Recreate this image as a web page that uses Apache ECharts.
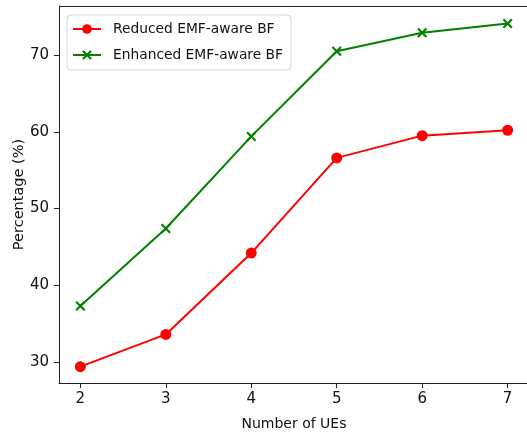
<!DOCTYPE html>
<html>
<head>
<meta charset="utf-8">
<script src="https://cdn.jsdelivr.net/npm/echarts@6/dist/echarts.min.js"></script>
<style>
html,body{margin:0;padding:0;background:#fff;}
#c{width:527px;height:435px;}
</style>
</head>
<body>
<div id="c"></div>
<script>
const ues = [2, 3, 4, 5, 6, 7];
const reduced = [29.4, 33.6, 44.2, 56.6, 59.5, 60.2];
const enhanced = [37.3, 47.4, 59.4, 70.5, 72.9, 74.1];
const yTicks = [30, 40, 50, 60, 70];
const xTicks = [2, 3, 4, 5, 6, 7];
const seriesNames = ['Reduced EMF-aware BF', 'Enhanced EMF-aware BF'];

const font = 'DejaVu Sans';
const xPath = 'path://M0,0.15 L0.15,0 L0.5,0.35 L0.85,0 L1,0.15 L0.65,0.5 L1,0.85 L0.85,1 L0.5,0.65 L0.15,1 L0,0.85 L0.35,0.5 Z';

const chart = echarts.init(document.getElementById('c'), null, {renderer: 'canvas'});
chart.setOption({
  animation: false,
  backgroundColor: '#fff',
  grid: {left: 59, right: -2, top: 6, bottom: 52, containLabel: false, outerBoundsMode: 'none'},
  legend: {
    left: 67, top: 15,
    orient: 'vertical',
    itemWidth: 28, itemHeight: 12, itemGap: 10,
    padding: [6, 8, 7, 5],
    borderColor: '#d5d5d5', borderWidth: 1, borderRadius: 4,
    backgroundColor: 'rgba(255,255,255,0.8)',
    textStyle: {fontFamily: font, fontSize: 13.8, lineHeight: 16, color: '#111', padding: [0,0,0,7]},
    data: seriesNames
  },
  xAxis: {
    type: 'value', min: 1.75, max: 7.25,
    name: 'Number of UEs', nameLocation: 'middle', nameGap: 34, nameMoveOverlap: false,
    nameTextStyle: {fontFamily: font, fontSize: 14, color: '#111'},
    axisLine: {show: true, onZero: false, lineStyle: {color: '#222', width: 1}},
    axisTick: {show: true, length: 5, lineStyle: {color: '#222'}, customValues: xTicks},
    axisLabel: {fontFamily: font, fontSize: 15, color: '#111', margin: 9, customValues: xTicks, formatter: v => String(v)},
    splitLine: {show: false}
  },
  yAxis: {
    type: 'value', min: 27.27, max: 76.39,
    name: 'Percentage (%)', nameLocation: 'middle', nameGap: 32, nameMoveOverlap: false,
    nameTextStyle: {fontFamily: font, fontSize: 14.5, color: '#111'},
    axisLine: {show: true, onZero: false, lineStyle: {color: '#222', width: 1}},
    axisTick: {show: true, length: 5, lineStyle: {color: '#222'}, customValues: yTicks},
    axisLabel: {fontFamily: font, fontSize: 15, color: '#111', margin: 10, customValues: yTicks, formatter: v => String(v)},
    splitLine: {show: false}
  },
  graphic: [
    {type: 'line', shape: {x1: 59, y1: 6.5, x2: 527, y2: 6.5}, style: {stroke: '#222', lineWidth: 1}, silent: true}
  ],
  series: [
    {
      name: seriesNames[0], type: 'line',
      data: ues.map((x, i) => [x, reduced[i]]),
      symbol: 'circle', symbolSize: 11,
      lineStyle: {color: '#ff0000', width: 2},
      itemStyle: {color: '#ff0000'}
    },
    {
      name: seriesNames[1], type: 'line',
      data: ues.map((x, i) => [x, enhanced[i]]),
      symbol: xPath, symbolSize: 10,
      lineStyle: {color: '#008000', width: 2},
      itemStyle: {color: '#008000'}
    }
  ]
});
</script>
</body>
</html>
